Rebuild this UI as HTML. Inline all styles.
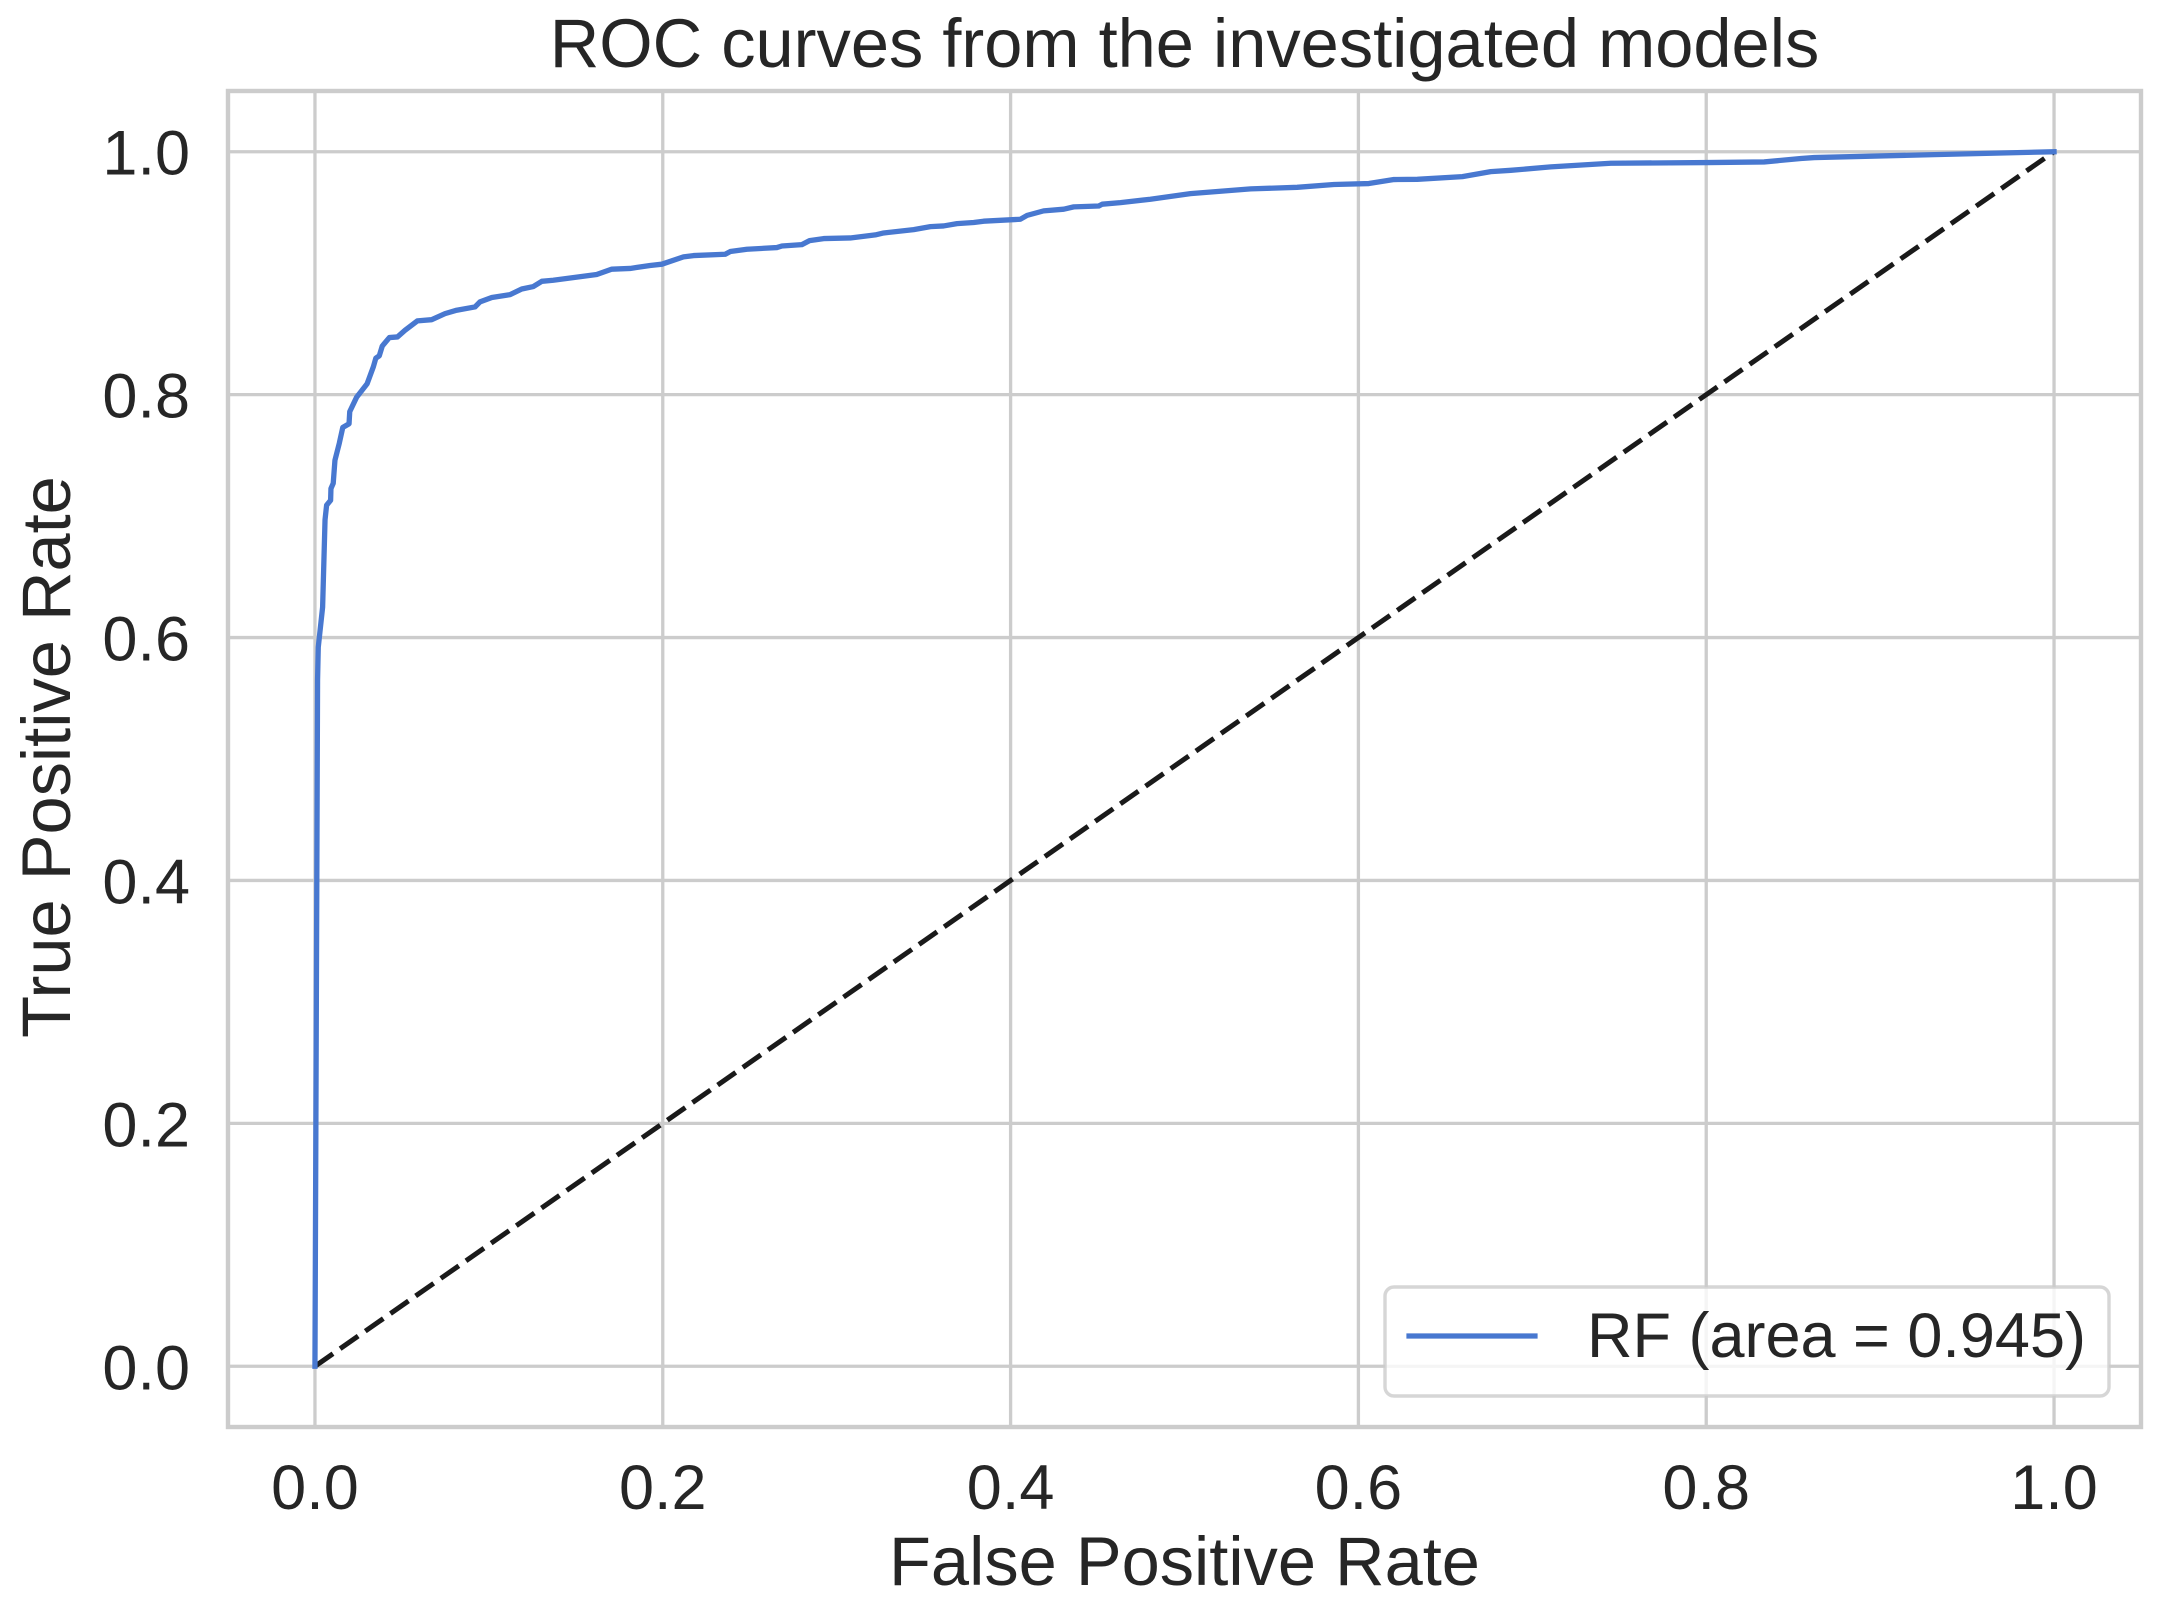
<!DOCTYPE html>
<html lang="en">
<head>
<meta charset="utf-8">
<title>ROC curves from the investigated models</title>
<style>
html,body{margin:0;padding:0;background:#fff;width:2164px;height:1608px;overflow:hidden}
svg{display:block}
text{font-family:"Liberation Sans",Arial,sans-serif;fill:#262626}
</style>
</head>
<body>
<svg id="chart" xmlns="http://www.w3.org/2000/svg" width="2164" height="1608" viewBox="0 0 2164 1608">
  <rect x="0" y="0" width="2164" height="1608" fill="#ffffff"/>
  <g id="grid"></g>
  <g id="series"></g>
  <rect x="228" y="91" width="1913" height="1336" fill="none" stroke="#cccccc" stroke-width="4.4"/>
  <g id="ticks"></g>
  <text x="1184.5" y="67" text-anchor="middle" font-size="68.6">ROC curves from the investigated models</text>
  <text x="1184.5" y="1585" text-anchor="middle" font-size="68.6">False Positive Rate</text>
  <text transform="translate(70 757) rotate(-90)" text-anchor="middle" font-size="68.6">True Positive Rate</text>
  <g>
    <rect x="1385" y="1287" width="724" height="109" rx="9" ry="9" fill="#ffffff" fill-opacity="0.8" stroke="#cccccc" stroke-opacity="0.8" stroke-width="3.4"/>
    <line x1="1409" y1="1336" x2="1535" y2="1336" stroke="#4878d0" stroke-width="5.2" stroke-linecap="square"/>
    <text x="1587" y="1357" font-size="63">RF (area = 0.945)</text>
  </g>
</svg>
<script>
const tickValues = [0, 0.2, 0.4, 0.6, 0.8, 1.0];
const tickLabels = ["0.0", "0.2", "0.4", "0.6", "0.8", "1.0"];
const fpr = [0, 0.0008, 0.0015, 0.0019, 0.0044, 0.0058, 0.0067, 0.009, 0.0092, 0.0105, 0.0115, 0.014, 0.016, 0.0196, 0.020, 0.024, 0.030, 0.0336, 0.035, 0.037, 0.0387, 0.0428, 0.0474, 0.0518, 0.0589, 0.0671, 0.0748, 0.0815, 0.092, 0.0949, 0.1017, 0.1122, 0.1189, 0.1256, 0.1304, 0.137, 0.162, 0.1707, 0.1812, 0.1927, 0.1995, 0.2119, 0.2177, 0.2359, 0.2388, 0.2484, 0.2656, 0.2685, 0.28, 0.2844, 0.2925, 0.3078, 0.3222, 0.327, 0.3443, 0.3539, 0.3615, 0.3692, 0.3788, 0.3845, 0.4056, 0.4095, 0.419, 0.4306, 0.4363, 0.4507, 0.4527, 0.4632, 0.4804, 0.5034, 0.538, 0.5648, 0.5859, 0.606, 0.6204, 0.6339, 0.6598, 0.6761, 0.6876, 0.7106, 0.7451, 0.8007, 0.8333, 0.8544, 0.8621, 0.9312, 1.0];
const tpr = [0, 0.3, 0.565, 0.592, 0.625, 0.697, 0.709, 0.713, 0.7227, 0.727, 0.746, 0.760, 0.773, 0.776, 0.786, 0.798, 0.809, 0.823, 0.830, 0.832, 0.840, 0.847, 0.8475, 0.853, 0.8607, 0.8617, 0.8667, 0.8695, 0.8722, 0.8764, 0.880, 0.8823, 0.887, 0.889, 0.8933, 0.8942, 0.8989, 0.9033, 0.9039, 0.9063, 0.9074, 0.9134, 0.9145, 0.9156, 0.9178, 0.9197, 0.9211, 0.9224, 0.9235, 0.9268, 0.9285, 0.929, 0.9315, 0.9331, 0.9359, 0.9383, 0.9389, 0.9408, 0.9417, 0.9428, 0.9444, 0.9476, 0.9513, 0.9527, 0.9546, 0.9553, 0.9568, 0.9581, 0.9609, 0.9655, 0.9694, 0.9707, 0.973, 0.9738, 0.9771, 0.9773, 0.9795, 0.9836, 0.9847, 0.9875, 0.9905, 0.9911, 0.9916, 0.9944, 0.9952, 0.9976, 1.0];
const chanceX = [0, 1];
const chanceY = [0, 1];

const NS = 'http://www.w3.org/2000/svg';
const plot = { left: 228, right: 2141, top: 91, bottom: 1427 };
const xMin = -0.05, xMax = 1.05, yMin = -0.05, yMax = 1.05;
function xScale(v) { return plot.left + (v - xMin) / (xMax - xMin) * (plot.right - plot.left); }
function yScale(v) { return plot.bottom - (v - yMin) / (yMax - yMin) * (plot.bottom - plot.top); }
function make(tag, attrs) {
  const el = document.createElementNS(NS, tag);
  for (const k in attrs) el.setAttribute(k, attrs[k]);
  return el;
}
function pathFrom(xs, ys) {
  return xs.map(function (x, i) { return (i ? 'L' : 'M') + xScale(x).toFixed(2) + ' ' + yScale(ys[i]).toFixed(2); }).join(' ');
}
const gridGroup = document.getElementById('grid');
const tickGroup = document.getElementById('ticks');
const seriesGroup = document.getElementById('series');

tickValues.forEach(function (v, i) {
  const vLine = make('line', { x1: xScale(v), x2: xScale(v), y1: plot.top, y2: plot.bottom, stroke: '#cccccc', 'stroke-width': 3.3 });
  
  
  gridGroup.appendChild(vLine);

  const hLine = make('line', { x1: plot.left, x2: plot.right, y1: yScale(v), y2: yScale(v), stroke: '#cccccc', 'stroke-width': 3.3 });
  
  
  gridGroup.appendChild(hLine);

  const xLabel = make('text', { x: xScale(v), y: 1509, 'text-anchor': 'middle', 'font-size': 63 });
  
  
  xLabel.textContent = tickLabels[i];
  tickGroup.appendChild(xLabel);

  const yLabel = make('text', { x: 190, y: yScale(v) + 23, 'text-anchor': 'end', 'font-size': 63 });
  
  
  yLabel.textContent = tickLabels[i];
  tickGroup.appendChild(yLabel);
});

const chanceLine = make('path', { d: pathFrom(chanceX, chanceY), fill: 'none', stroke: '#1a1a1a', 'stroke-width': 5, 'stroke-dasharray': '22 8.7' });


seriesGroup.appendChild(chanceLine);

const rocLine = make('path', { d: pathFrom(fpr, tpr), fill: 'none', stroke: '#4878d0', 'stroke-width': 5.3, 'stroke-linejoin': 'round', 'stroke-linecap': 'square' });


seriesGroup.appendChild(rocLine);
</script>
</body>
</html>
